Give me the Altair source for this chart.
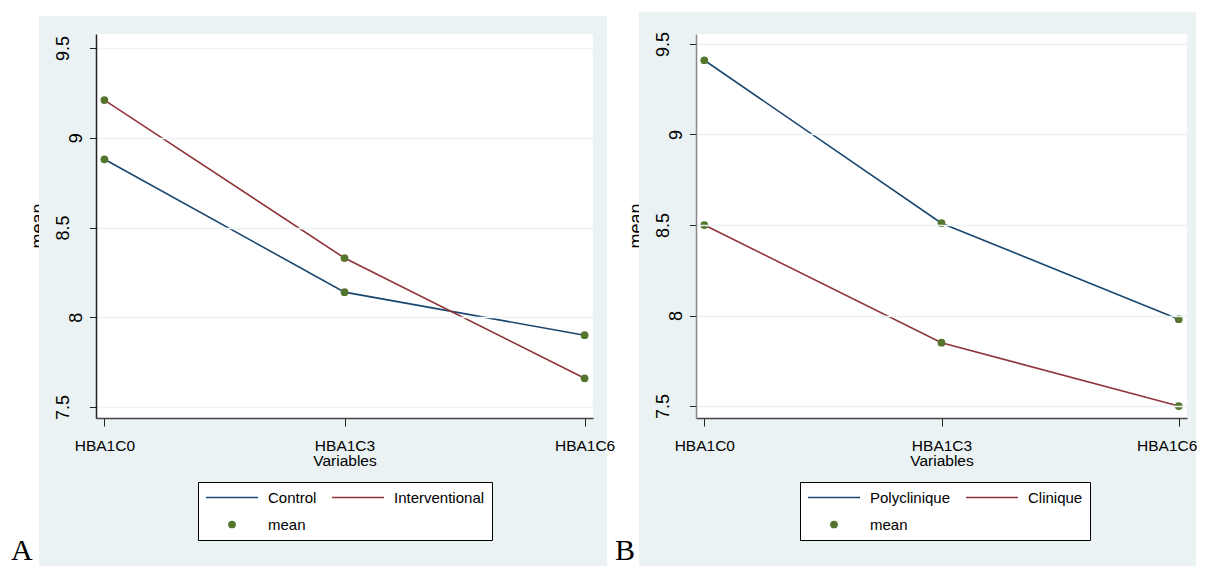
import altair as alt
import pandas as pd

# ---------------- data ----------------
visits = ["HBA1C0", "HBA1C3", "HBA1C6"]

a_groups = ["Control", "Interventional"]
a_control = [8.88, 8.14, 7.90]
a_interventional = [9.21, 8.33, 7.66]

b_groups = ["Polyclinique", "Clinique"]
b_polyclinique = [9.41, 8.51, 7.98]
b_clinique = [8.50, 7.85, 7.50]

y_ticks = [7.5, 8, 8.5, 9, 9.5]
mean_label = "mean"
x_title = "Variables"
panel_letters = ["A", "B"]

# ---------------- style ----------------
NAVY = "#1a476f"
MAROON = "#90353b"
GREEN = "#55752f"
BG = "#eaf2f3"
SANS = "Liberation Sans, Arial, sans-serif"
SERIF = "Liberation Serif, Times New Roman, serif"
H = 384


def long_df(groups, series):
    rows = []
    for g, vals in zip(groups, series):
        for v, val in zip(visits, vals):
            rows.append({"visit": v, "series": g, "mean": val})
    return pd.DataFrame(rows)


def panel(groups, series, W, ydom, geo, letter, ydomain_color, last_label_shift):
    df = long_df(groups, series)
    one = pd.DataFrame({"k": [0]})
    dom3 = groups + [mean_label]

    anchor = alt.Chart(one).mark_rect(fill="white", opacity=0).encode(
        x=alt.value(geo["anchor_x0"]), x2=alt.value(geo["anchor_x1"]),
        y=alt.value(-26), y2=alt.value(520))
    ytitle = alt.Chart(one).mark_text(
        text=mean_label, angle=270, font=SANS, fontSize=18, align="center",
        baseline="alphabetic", color="black").encode(
        x=alt.value(geo["mean_x"]), y=alt.value(H / 2))
    gray = alt.Chart(one).mark_rect(color=BG).encode(
        x=alt.value(-57), x2=alt.value(geo["gray_x1"]),
        y=alt.value(geo["gray_y0"]), y2=alt.value(532))
    white = alt.Chart(one).mark_rect(color="white").encode(
        x=alt.value(0), x2=alt.value(W), y=alt.value(0), y2=alt.value(H))
    letter_t = alt.Chart(one).mark_text(
        text=letter, font=SERIF, fontSize=30, align="left",
        baseline="alphabetic", color="black").encode(
        x=alt.value(geo["letter_x"]), y=alt.value(526))

    xaxis = alt.Axis(title=x_title, labelAngle=0, labelFont=SANS, labelFontSize=15.5,
                     labelColor="black", labelPadding=12, labelBaseline="top",
                     labelOffset={"condition": {"test": "datum.value == 'HBA1C6'",
                                                "value": last_label_shift}, "value": 0},
                     tickSize=8, tickColor="#222", tickWidth=1,
                     domainColor="#444", domainWidth=1.5, grid=False,
                     titleFont=SANS, titleFontSize=15.5, titleFontWeight="normal",
                     titleColor="black", titleY=47, titleBaseline="alphabetic",
                     zindex=1)
    yaxis = alt.Axis(values=y_ticks, format=".1~f", title=None, orient="left",
                     labelAngle=270, labelAlign="center", labelBaseline="alphabetic",
                     labelPadding={"condition": {"test": "datum.value % 1 != 0", "value": 21},
                                   "value": 8},
                     labelFont=SANS, labelFontSize=18, labelColor="black",
                     labelOverlap=False, labelFlush=False,
                     tickSize=6.5, tickColor="#222", tickWidth=1,
                     domainColor=ydomain_color, domainWidth=1.5,
                     grid=True, gridColor=BG, gridWidth=1.5, zindex=1)

    x_enc = alt.X("visit:N", sort=visits,
                  scale=alt.Scale(type="point", padding=0.035), axis=xaxis)
    y_enc = alt.Y("mean:Q", scale=alt.Scale(domain=ydom, nice=False, zero=False),
                  axis=yaxis)

    lines = alt.Chart(df).mark_line(strokeWidth=1.6).encode(
        x=x_enc, y=y_enc,
        color=alt.Color("series:N", scale=alt.Scale(domain=groups, range=[NAVY, MAROON]),
                        legend=None))

    leg = alt.Legend(title=None, orient="none", legendX=geo["leg_x"], legendY=448,
                     columns=2, direction="horizontal", strokeColor="black",
                     fillColor="white", padding=7,
                     labelFont=SANS, labelFontSize=15, labelColor="black",
                     labelOffset=9, columnPadding=14, rowPadding=10, clipHeight=17,
                     symbolStrokeWidth=1.5)
    points = alt.Chart(df).transform_calculate(marker="'mean'").mark_point(
        filled=True, opacity=1, strokeWidth=1.5).encode(
        x="visit:N", y="mean:Q",
        stroke=alt.Stroke("marker:N", scale=alt.Scale(domain=dom3, range=[NAVY, MAROON, "transparent"]), legend=leg),
        fill=alt.Fill("marker:N", scale=alt.Scale(domain=dom3, range=["transparent", "transparent", GREEN]), legend=leg),
        shape=alt.Shape("marker:N", scale=alt.Scale(domain=dom3, range=["stroke", "stroke", "circle"]), legend=leg),
        size=alt.Size("marker:N", scale=alt.Scale(type="ordinal", domain=dom3, range=[2704, 2704, 60]), legend=leg))

    return alt.layer(anchor, ytitle, gray, white, lines, points, letter_t).properties(
        width=W, height=H)


geoA = dict(anchor_x0=-88, anchor_x1=540, mean_x=-52, gray_x1=511, gray_y0=-18,
            letter_x=-85, leg_x=102)
geoB = dict(anchor_x0=-89, anchor_x1=500, mean_x=-54, gray_x1=500, gray_y0=-22,
            letter_x=-81, leg_x=104)

pA = panel(a_groups, [a_control, a_interventional], 497, [7.439, 9.578], geoA,
           panel_letters[0], "#222", 0)
pB = panel(b_groups, [b_polyclinique, b_clinique], 491, [7.434, 9.555], geoB,
           panel_letters[1], "#888", -12)

chart = alt.hconcat(pA, pB, spacing=-29).resolve_scale(
    x="independent", y="independent", color="independent", stroke="independent",
    fill="independent", shape="independent", size="independent").resolve_legend(
    stroke="independent", fill="independent", shape="independent", size="independent"
).properties(padding=0, background="white").configure_view(strokeWidth=0).configure_legend(
    symbolFillColor="transparent", symbolStrokeColor="transparent")

chart.save("out.html", embed_options={"renderer": "svg", "actions": False})
